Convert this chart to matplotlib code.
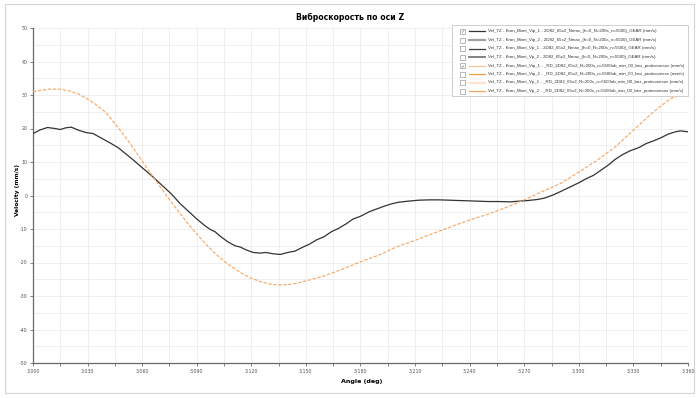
import matplotlib
matplotlib.use("Agg")
import matplotlib.pyplot as plt
from matplotlib.patches import Rectangle
from matplotlib.lines import Line2D
from matplotlib.ticker import MultipleLocator, FuncFormatter

plt.rcParams["axes.unicode_minus"] = False

title = "Виброскорость по оси Z"
xlabel = "Angle (deg)"
ylabel = "Velocity (mm/s)"

# Series 1 (checked): Vip_1 GEAR
black_angle = [3000, 3004, 3008, 3012, 3015, 3018, 3021, 3025, 3029, 3033, 3038, 3043,
               3047, 3052, 3056, 3060, 3065, 3070, 3076, 3081, 3086, 3090, 3094, 3097,
               3100, 3103, 3107, 3111, 3114, 3117, 3121, 3125, 3128, 3132, 3136, 3140,
               3144, 3148, 3152, 3156, 3160, 3164, 3168, 3172, 3176, 3180, 3185, 3189,
               3193, 3197, 3201, 3206, 3212, 3218, 3223, 3229, 3234, 3240, 3245, 3250,
               3256, 3262, 3267, 3272, 3277, 3281, 3286, 3290, 3295, 3300, 3304, 3308,
               3312, 3316, 3320, 3324, 3328, 3333, 3337, 3341, 3345, 3349, 3353, 3356, 3360]
black_vel = [18.5, 19.6, 20.3, 20.0, 19.7, 20.2, 20.4, 19.5, 18.8, 18.5, 17.0, 15.5,
             14.2, 12.0, 10.2, 8.3, 6.0, 3.5, 0.5, -2.5, -5.0, -7.0, -8.8, -10.0,
             -10.8, -12.2, -13.8, -15.0, -15.4, -16.2, -17.0, -17.2, -17.0, -17.4, -17.6, -17.0,
             -16.6, -15.5, -14.5, -13.2, -12.3, -10.8, -9.8, -8.5, -7.0, -6.2, -4.8, -4.0,
             -3.2, -2.5, -2.0, -1.7, -1.4, -1.3, -1.3, -1.4, -1.5, -1.6, -1.7, -1.8,
             -1.8, -1.9, -1.7, -1.5, -1.2, -0.8, 0.2, 1.2, 2.5, 3.8, 5.0, 6.0,
             7.5, 9.0, 10.8, 12.2, 13.3, 14.3, 15.5, 16.3, 17.2, 18.3, 19.0, 19.3, 19.0]

# Series 5 (checked): Vip_1 _RD
orange_angle = [3000, 3005, 3010, 3015, 3020, 3025, 3030, 3035, 3040, 3045, 3050, 3055,
                3060, 3065, 3070, 3075, 3080, 3085, 3090, 3095, 3100, 3105, 3110, 3115,
                3120, 3125, 3130, 3135, 3140, 3145, 3150, 3160, 3170, 3180, 3190, 3200,
                3210, 3220, 3230, 3240, 3250, 3260, 3270, 3280, 3290, 3300, 3310, 3320,
                3330, 3340, 3350, 3360]
orange_vel = [31.0, 31.5, 31.8, 31.7, 31.2, 30.3, 28.8, 27.0, 24.8, 21.5, 18.0, 14.3,
              10.3, 6.3, 2.5, -1.2, -4.8, -8.3, -11.5, -14.5, -17.2, -19.6, -21.6, -23.3,
              -24.7, -25.7, -26.4, -26.7, -26.6, -26.2, -25.5, -24.0, -22.0, -19.8, -17.8, -15.3,
              -13.4, -11.3, -9.3, -7.3, -5.6, -3.6, -1.3, 1.2, 3.6, 7.0, 10.5, 14.5,
              19.5, 24.5, 28.8, 31.0]

legend_labels = [
    "Vel_TZ - Kron_Mont_Vip_1 - 2D82_65x2_Nmax_(h=0_N=200s_n=5500)_GEAR (mm/s)",
    "Vel_TZ - Kron_Mont_Vip_2 - 2D82_65x2_Nmax_(h=0_N=200s_n=5500)_GEAR (mm/s)",
    "Vel_TZ - Kron_Mont_Vp_1 - 2D82_65x2_Nmax_(h=0_N=200s_n=5500)_GEAR (mm/s)",
    "Vel_TZ - Kron_Mont_Vp_2 - 2D82_65x2_Nmax_(h=0_N=200s_n=5500)_GEAR (mm/s)",
    "Vel_TZ - Kron_Mont_Vip_1 - _RD_2D82_65x2_N=200s_n=5500ob_min_00_bez_protivovesov (mm/s)",
    "Vel_TZ - Kron_Mont_Vip_2 - _RD_2D82_65x2_N=200s_n=5500ob_min_00_bez_protivovesov (mm/s)",
    "Vel_TZ - Kron_Mont_Vp_1 - _RD_2D82_65x2_N=200s_n=5500ob_min_00_bez_protivovesov (mm/s)",
    "Vel_TZ - Kron_Mont_Vp_2 - _RD_2D82_65x2_N=200s_n=5500ob_min_00_bez_protivovesov (mm/s)",
]
legend_checked = [True, False, False, False, True, False, False, False]
legend_colors = ["#333333", "#a0a0a0", "#3c3c3c", "#7a7a7a",
                 "#f8c496", "#f39a45", "#fde3cf", "#f5a55c"]
legend_widths = [0.9, 1.6, 0.9, 1.3, 0.9, 0.9, 1.6, 0.9]

W, H = 700, 398
fig = plt.figure(figsize=(W / 100, H / 100), dpi=100)
fig.patch.set_facecolor("white")
fig.patches.append(Rectangle((5 / W, 5 / H), 689 / W, 389 / H, transform=fig.transFigure,
                             fill=False, edgecolor="#d4d4d4", linewidth=0.8))

ax = fig.add_axes([33 / W, 1 - 363 / H, (688 - 33) / W, (363 - 28) / H])
ax.plot(black_angle, black_vel, color="#333333", lw=0.9, zorder=3)
ax.plot(orange_angle, orange_vel, color="#f5a35e", lw=0.8, ls=(0, (3, 1.5)), zorder=3)

ax.set_xlim(3000, 3360)
ax.set_ylim(-50, 50)
ax.xaxis.set_major_locator(MultipleLocator(30))
ax.xaxis.set_minor_locator(MultipleLocator(15))
ax.yaxis.set_major_locator(MultipleLocator(10))
ax.yaxis.set_minor_locator(MultipleLocator(5))
ax.xaxis.set_major_formatter(FuncFormatter(lambda v, p: f"{int(round(v)):,}"))
ax.grid(which="both", color="#ececec", lw=0.6, zorder=0)
for s in ["top", "right"]:
    ax.spines[s].set_visible(False)
for s in ["left", "bottom"]:
    ax.spines[s].set_color("#6a6a6a")
    ax.spines[s].set_linewidth(0.9)
ax.tick_params(which="major", length=2, width=0.6, color="#6a6a6a",
               labelsize=3.4, labelcolor="#555555", pad=2)
ax.tick_params(axis="x", which="minor", length=2, width=0.6, color="#6a6a6a")
ax.tick_params(axis="y", which="minor", length=0)

fig.text(362 / W, 1 - 381 / H, xlabel, ha="center", va="center", fontsize=4.6, fontweight="bold")
fig.text(18 / W, 1 - 190 / H, ylabel, ha="center", va="center", rotation=90,
         fontsize=4.2, fontweight="bold")
fig.text(350 / W, 1 - 17 / H, title, ha="center", va="center", fontsize=5.6, fontweight="bold")

# legend box
fig.patches.append(Rectangle((452 / W, 1 - 96 / H), (688 - 452) / W, (96 - 25) / H,
                             transform=fig.transFigure, facecolor="white",
                             edgecolor="#cfcfcf", linewidth=0.7, zorder=5))
row_y = [31, 40, 48.5, 57, 65.5, 74, 82.5, 91]
for i, lab in enumerate(legend_labels):
    yy = 1 - row_y[i] / H
    fig.patches.append(Rectangle((459.5 / W, yy - 2.5 / H), 5 / W, 5 / H,
                                 transform=fig.transFigure, facecolor="white",
                                 edgecolor="#9a9a9a", linewidth=0.5, zorder=6))
    if legend_checked[i]:
        fig.text(462 / W, yy, "✓", ha="center", va="center", fontsize=3.6,
                 color="#555555", zorder=7, family="DejaVu Sans")
    fig.lines.append(Line2D([469 / W, 485 / W], [yy, yy], transform=fig.transFigure,
                            color=legend_colors[i], lw=legend_widths[i], zorder=6))
    fig.text(488 / W, yy, lab, ha="left", va="center", fontsize=3.15,
             color="#333333", zorder=7, family=["Liberation Sans", "DejaVu Sans"])

fig.savefig("out.png", dpi=100)
